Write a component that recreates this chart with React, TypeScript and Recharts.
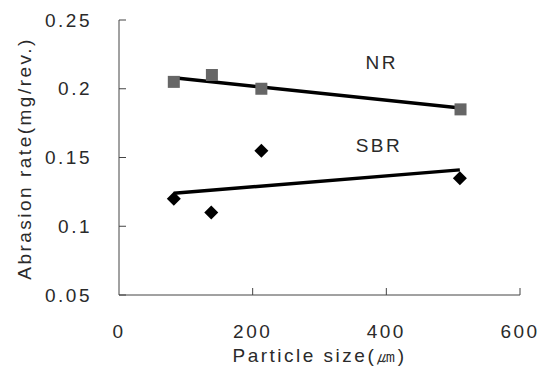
import { ComposedChart, XAxis, YAxis, Scatter, ReferenceDot, Label } from 'recharts';

// particle size (um) vs abrasion rate (mg/rev.)
const nrPoints = [
  { x: 82, y: 0.205 },
  { x: 139, y: 0.21 },
  { x: 213, y: 0.2 },
  { x: 511, y: 0.185 },
];
const sbrPoints = [
  { x: 82, y: 0.12 },
  { x: 138, y: 0.11 },
  { x: 213, y: 0.155 },
  { x: 510, y: 0.135 },
];
// fitted lines, end points
const nrTrend = [
  { x: 82, y: 0.208 },
  { x: 511, y: 0.186 },
];
const sbrTrend = [
  { x: 82, y: 0.124 },
  { x: 510, y: 0.141 },
];
const xTicks = [0, 200, 400, 600];
const yTicks = [0.05, 0.1, 0.15, 0.2, 0.25];

const FONT = '"Liberation Sans", Arial, sans-serif';
const textStyle = { fontFamily: FONT, fontSize: 19, letterSpacing: 2.5, fill: '#2a2a2a' };

const XTick = (props: any) => {
  const { x, y, payload } = props;
  return (
    <g>
      {payload.value !== 0 && <line x1={x} y1={y - 30} x2={x} y2={y - 37} stroke="#444" />}
      <text x={x} y={y} dy="0.71em" textAnchor="middle" style={textStyle}>
        {payload.value}
      </text>
    </g>
  );
};

const YTick = (props: any) => {
  const { x, y, payload } = props;
  return (
    <g>
      <line x1={x + 27} y1={y} x2={x + 34} y2={y} stroke="#444" />
      <text x={x} y={y} dy="0.355em" textAnchor="end" style={textStyle}>
        {payload.value}
      </text>
    </g>
  );
};

const Square = (props: any) => (
  <rect x={props.cx - 6} y={props.cy - 6} width={12} height={12} fill="#666" />
);

const Diamond = (props: any) => {
  const { cx, cy } = props;
  return <polygon points={`${cx},${cy - 7} ${cx + 7},${cy} ${cx},${cy + 7} ${cx - 7},${cy}`} fill="#000" />;
};

const Nothing = () => <g />;

export default function App() {
  return (
    <div style={{ position: 'absolute', left: 0, top: 0, background: '#fff' }}>
      <ComposedChart width={541} height={378} margin={{ top: 20, right: 21, bottom: 0, left: 0 }}>
        <XAxis
          type="number"
          dataKey="x"
          domain={[0, 600]}
          ticks={xTicks}
          height={83}
          tickSize={0}
          tickMargin={30}
          tick={XTick}
          stroke="#444"
        >
          <Label
            content={({ viewBox }: any) => (
              <text x={viewBox.x + viewBox.width / 2} y={362} textAnchor="middle" style={textStyle}>
                Particle size(㎛)
              </text>
            )}
          />
        </XAxis>
        <YAxis
          type="number"
          dataKey="y"
          domain={[0.05, 0.25]}
          ticks={yTicks}
          width={119}
          tickSize={0}
          tickMargin={27}
          tick={YTick}
          stroke="#444"
        >
          <Label
            content={({ viewBox }: any) => {
              const cx = 24;
              const cy = viewBox.y + viewBox.height / 2 + 1;
              return (
                <text
                  x={cx}
                  y={cy}
                  dy="0.355em"
                  textAnchor="middle"
                  transform={`rotate(-90 ${cx} ${cy})`}
                  style={textStyle}
                >
                  Abrasion rate(mg/rev.)
                </text>
              );
            }}
          />
        </YAxis>
        <Scatter data={nrTrend} line={{ stroke: '#000', strokeWidth: 3.5 }} shape={Nothing} isAnimationActive={false} />
        <Scatter data={sbrTrend} line={{ stroke: '#000', strokeWidth: 3.5 }} shape={Nothing} isAnimationActive={false} />
        <Scatter name="NR" data={nrPoints} shape={Square} isAnimationActive={false} />
        <Scatter name="SBR" data={sbrPoints} shape={Diamond} isAnimationActive={false} />
        <ReferenceDot x={393} y={0.219} r={0} stroke="none" fill="none">
          <Label value="NR" position="center" style={textStyle} />
        </ReferenceDot>
        <ReferenceDot x={389} y={0.159} r={0} stroke="none" fill="none">
          <Label value="SBR" position="center" style={textStyle} />
        </ReferenceDot>
      </ComposedChart>
    </div>
  );
}
